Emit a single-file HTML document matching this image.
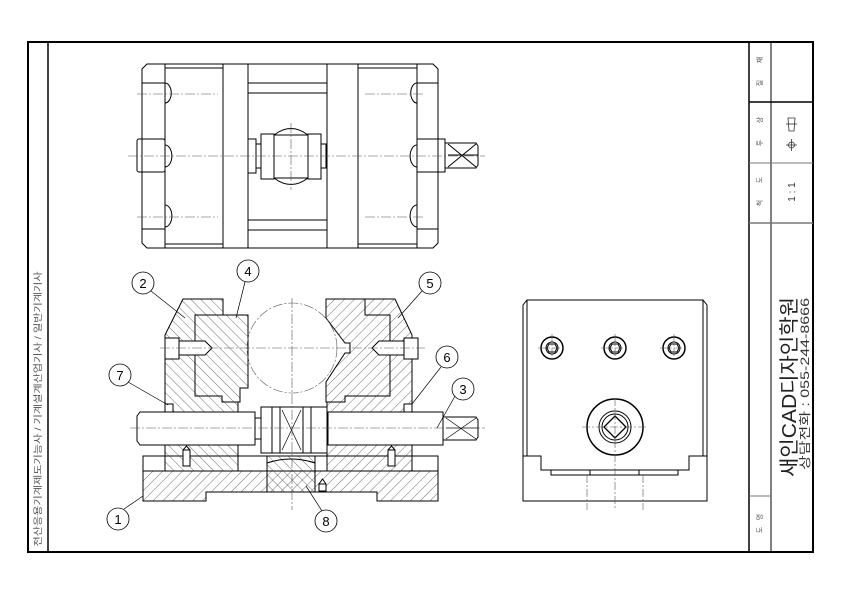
<!DOCTYPE html>
<html><head><meta charset="utf-8"><style>
html,body{margin:0;padding:0;background:#fff;}
svg{display:block;}
text{font-family:"Liberation Sans","Noto Sans CJK KR",sans-serif;}
</style></head><body>
<svg width="842" height="595" viewBox="0 0 842 595" xmlns="http://www.w3.org/2000/svg">
<defs>
<pattern id="h1" patternUnits="userSpaceOnUse" width="7" height="7" patternTransform="rotate(45)"><line x1="0" y1="0" x2="0" y2="7" stroke="#333" stroke-width="0.7"/></pattern>
<pattern id="h2" patternUnits="userSpaceOnUse" width="7" height="7" patternTransform="rotate(-45)"><line x1="0" y1="0" x2="0" y2="7" stroke="#333" stroke-width="0.7"/></pattern>
</defs>
<!-- frame -->
<g fill="none" stroke="#000">
<rect x="28" y="42" width="785" height="510" stroke-width="2"/>
<line x1="48" y1="42" x2="48" y2="552" stroke-width="1.5"/>
<line x1="749" y1="42" x2="749" y2="552" stroke-width="1.5"/>
<line x1="771" y1="42" x2="771" y2="552" stroke-width="1"/>
<line x1="749" y1="102" x2="813" y2="102" stroke-width="1.5"/>
<line x1="749" y1="163" x2="813" y2="163" stroke-width="1" stroke="#777"/>
<line x1="749" y1="223" x2="813" y2="223" stroke-width="1.5" stroke="#777"/>
<line x1="749" y1="496" x2="771" y2="496" stroke-width="1" stroke="#777"/>
</g>
<text transform="translate(41,409) rotate(-90)" font-size="9" text-anchor="middle" fill="#555" textLength="275" lengthAdjust="spacingAndGlyphs">전산응용기계제도기능사 / 기계설계산업기사 / 일반기계기사</text>
<g font-size="7" fill="#555" text-anchor="middle">
<text transform="translate(762,60) rotate(-90)">재</text>
<text transform="translate(762,83) rotate(-90)">질</text>
<text transform="translate(762,120) rotate(-90)">상</text>
<text transform="translate(762,143) rotate(-90)">투</text>
<text transform="translate(762,180) rotate(-90)">도</text>
<text transform="translate(762,203) rotate(-90)">척</text>
<text transform="translate(762,517) rotate(-90)">명</text>
<text transform="translate(762,530) rotate(-90)">도</text>
</g>
<text transform="translate(795,192) rotate(-90)" font-size="10" text-anchor="middle" fill="#333">1 : 1</text>
<g stroke="#333" fill="none" stroke-width="0.8">
<path d="M788,118 L795,118 L794,131 L789,131 Z"/><line x1="786" y1="124" x2="797" y2="124"/>
<circle cx="791.5" cy="145" r="3"/><line x1="786" y1="145" x2="797" y2="145"/><line x1="791.5" y1="139" x2="791.5" y2="151"/>
</g>
<text transform="translate(796,387) rotate(-90)" font-size="20" text-anchor="middle" fill="#222" textLength="180" lengthAdjust="spacingAndGlyphs">새인CAD디자인학원</text>
<text transform="translate(809,384) rotate(-90)" font-size="12" text-anchor="middle" fill="#333" textLength="172" lengthAdjust="spacingAndGlyphs">상담전화 : 055-244-8666</text>

<!-- TOP VIEW -->
<g fill="none" stroke="#000" stroke-width="1">
<path d="M147,64 L433,64 L438,69 L438,243 L433,248 L147,248 L142,243 L142,69 Z"/>
<line x1="165" y1="64" x2="165" y2="248"/><line x1="417" y1="64" x2="417" y2="248"/>
<line x1="142" y1="83" x2="165" y2="83"/><line x1="142" y1="229" x2="165" y2="229"/>
<line x1="417" y1="83" x2="438" y2="83"/><line x1="417" y1="229" x2="438" y2="229"/>
<line x1="223" y1="64" x2="223" y2="248"/><line x1="248" y1="64" x2="248" y2="248"/>
<line x1="327" y1="64" x2="327" y2="248"/><line x1="358" y1="64" x2="358" y2="248"/>
<line x1="165" y1="68" x2="223" y2="68"/><line x1="358" y1="68" x2="417" y2="68"/>
<line x1="248" y1="83" x2="327" y2="83"/><line x1="248" y1="93" x2="327" y2="93"/>
<line x1="248" y1="220" x2="327" y2="220"/><line x1="248" y1="230" x2="327" y2="230"/>
<line x1="165" y1="244" x2="223" y2="244"/><line x1="358" y1="244" x2="417" y2="244"/>
<path d="M165,83 A5,8 0 0 1 165,103"/><path d="M165,145 A5,8 0 0 1 165,167"/><path d="M165,205 A5,8 0 0 1 165,227"/>
<path d="M417,83 A5,8 0 0 0 417,103"/><path d="M417,145 A5,8 0 0 0 417,167"/><path d="M417,205 A5,8 0 0 0 417,227"/>
<rect x="137" y="139" width="28" height="33" rx="2"/>
<rect x="417" y="139" width="28" height="33"/>
<path d="M445,143 L476,143 L478,146 L478,165 L476,168 L445,168 Z"/>
<path d="M448,144 L476,167 M448,167 L476,144 M448,155 L478,155"/>
<rect x="248" y="139" width="8" height="34"/><rect x="256" y="144" width="5" height="24"/>
<rect x="261" y="134" width="13" height="45"/>
<rect x="308" y="134" width="13" height="45"/>
<rect x="321" y="144" width="5" height="24"/>
<path d="M274,135 Q291,122 308,135 M274,178 Q291,191 308,178"/>
<line x1="274" y1="135" x2="308" y2="135"/><line x1="274" y1="178" x2="308" y2="178"/>
</g>
<g stroke="#555" stroke-width="0.6" stroke-dasharray="10,2,2,2" fill="none">
<line x1="128" y1="156" x2="485" y2="156"/>
<line x1="137" y1="94" x2="218" y2="94"/><line x1="137" y1="217" x2="218" y2="217"/>
<line x1="365" y1="94" x2="425" y2="94"/><line x1="365" y1="217" x2="425" y2="217"/>
<line x1="291" y1="123" x2="291" y2="190"/>
</g>

<!-- FRONT SECTION -->
<g stroke="#000" stroke-width="1">
<path d="M143,471 L438,471 L438,501 L377,501 L377,492 L206,492 L206,501 L143,501 Z" fill="url(#h1)"/>
<rect x="143" y="456" width="295" height="15" fill="#fff"/>
<path d="M267,456 L315,456 L315,492 L267,492 Z" fill="url(#h2)"/>
<path d="M267,463 Q291,455 315,463" fill="none"/>
<path d="M183,299 L223,299 L223,315 L195,315 L195,396 L222,396 L222,402 L238,402 L238,471 L165,471 L165,335 Z" fill="url(#h2)"/>
<path d="M195,315 L248,315 L248,388 L240,388 L240,402 L222,402 L222,396 L195,396 Z" fill="url(#h2)"/>
<path d="M326,299 L395,299 L412,335 L412,471 L327,471 L327,402 L345,402 L345,396 L390,396 L390,315 L365,315 L365,299 Z" fill="url(#h1)"/>
<path d="M326,299 L365,299 L365,315 L390,315 L390,396 L345,396 L345,402 L326,402 L326,382 L345,353 L350,353 L350,343 L345,343 L326,318 Z" fill="url(#h1)"/>
<path d="M140,412 L255,412 L255,445 L140,445 L137,441 L137,416 Z" fill="#fff"/>
<line x1="255" y1="418" x2="261" y2="418"/><line x1="255" y1="439" x2="261" y2="439"/>
<path d="M328,412 L443,412 L443,445 L328,445 Z" fill="#fff"/>
<line x1="322" y1="418" x2="328" y2="418"/><line x1="322" y1="439" x2="328" y2="439"/>
<path d="M443,417 L476,417 L478,420 L478,437 L476,440 L443,440 Z" fill="#fff"/>
<path d="M446,418 L476,439 M446,439 L476,418 M446,428 L478,428" fill="none" stroke-width="0.7"/>
<rect x="261" y="407" width="66" height="46" fill="#fff"/>
<line x1="272" y1="407" x2="272" y2="453"/><line x1="280" y1="407" x2="280" y2="453"/>
<line x1="303" y1="407" x2="303" y2="453"/><line x1="311" y1="407" x2="311" y2="453"/>
<path d="M282,410 L301,450 M282,450 L301,410" fill="none" stroke-width="0.7"/>
<rect x="165" y="338" width="14" height="21" fill="#fff"/>
<path d="M179,341 L205,341 L212,348 L205,355 L179,355 Z" fill="#fff"/>
<rect x="404" y="338" width="14" height="21" fill="#fff"/>
<path d="M404,341 L379,341 L372,348 L379,355 L404,355 Z" fill="#fff"/>
<path d="M183,450 L190,450 L190,466 L183,466 Z M183,450 L186.5,446 L190,450" fill="#fff"/>
<path d="M388,450 L395,450 L395,466 L388,466 Z M388,450 L391.5,446 L395,450" fill="#fff"/>
<path d="M319,484 L326,484 L326,491 L319,491 Z M319,484 L322.5,479 L326,484" fill="#fff"/>
<rect x="165" y="404" width="8" height="8" fill="#fff"/>
<rect x="404" y="404" width="8" height="8" fill="#fff"/>
</g>
<g stroke="#555" stroke-width="0.6" stroke-dasharray="10,2,2,2" fill="none">
<circle cx="292" cy="348" r="45"/>
<line x1="160" y1="348" x2="425" y2="348"/>
<line x1="292" y1="298" x2="292" y2="510"/>
<line x1="130" y1="428" x2="485" y2="428"/>
</g>
<g fill="#fff" stroke="#000" stroke-width="0.8">
<circle cx="143" cy="283" r="11"/><circle cx="248" cy="271" r="11"/><circle cx="430" cy="283" r="11"/>
<circle cx="447" cy="357" r="11"/><circle cx="120" cy="375" r="11"/><circle cx="463" cy="389" r="11"/>
<circle cx="118" cy="519" r="11"/><circle cx="326" cy="521" r="11"/>
</g>
<g stroke="#000" stroke-width="0.7" fill="none">
<line x1="151" y1="291" x2="185" y2="318"/><line x1="245" y1="282" x2="236" y2="318"/>
<line x1="422" y1="291" x2="398" y2="318"/><line x1="441" y1="367" x2="412" y2="404"/>
<line x1="128" y1="382" x2="168" y2="405"/><line x1="455" y1="396" x2="437" y2="428"/>
<line x1="124" y1="509" x2="143" y2="496"/><line x1="322" y1="511" x2="306" y2="486"/>
</g>
<g font-size="13" text-anchor="middle" fill="#000">
<text x="143" y="288">2</text><text x="248" y="276">4</text><text x="430" y="288">5</text>
<text x="447" y="362">6</text><text x="120" y="380">7</text><text x="463" y="394">3</text>
<text x="118" y="524">1</text><text x="326" y="526">8</text>
</g>

<!-- SIDE VIEW -->
<g fill="none" stroke="#000" stroke-width="1">
<path d="M527,300 L703,300 L707,305 L707,501 L523,501 L523,305 Z"/>
<line x1="527" y1="300" x2="527" y2="456"/><line x1="703" y1="300" x2="703" y2="456"/>
<path d="M523,456 L541,456 L541,470 L689,470 L689,456 L707,456"/>
<path d="M551,470 L551,475 L678,475 L678,470"/>
<line x1="590" y1="470" x2="590" y2="475"/><line x1="639" y1="470" x2="639" y2="475"/>
<circle cx="552" cy="348" r="11" stroke-width="1.5"/><circle cx="552" cy="348" r="6"/>
<circle cx="615" cy="348" r="11" stroke-width="1.5"/><circle cx="615" cy="348" r="6"/>
<circle cx="674" cy="348" r="11" stroke-width="1.5"/><circle cx="674" cy="348" r="6"/>
<path d="M549,344 L555,344 L557,348 L555,352 L549,352 L547,348 Z"/>
<path d="M612,344 L618,344 L620,348 L618,352 L612,352 L610,348 Z"/>
<path d="M671,344 L677,344 L679,348 L677,352 L671,352 L669,348 Z"/>
<circle cx="615" cy="427" r="28" stroke-width="1.5"/>
<circle cx="615" cy="427" r="16"/><circle cx="615" cy="427" r="13"/>
<path d="M615,416 L626,427 L615,438 L604,427 Z" stroke-width="1.3"/>
</g>
<g stroke="#555" stroke-width="0.6" stroke-dasharray="8,2,2,2" fill="none">
<line x1="538" y1="348" x2="566" y2="348"/><line x1="552" y1="334" x2="552" y2="362"/>
<line x1="601" y1="348" x2="629" y2="348"/><line x1="615" y1="334" x2="615" y2="362"/>
<line x1="660" y1="348" x2="688" y2="348"/><line x1="674" y1="334" x2="674" y2="362"/>
<line x1="582" y1="427" x2="648" y2="427"/><line x1="615" y1="398" x2="615" y2="510"/>
<line x1="587" y1="475" x2="587" y2="510"/><line x1="643" y1="475" x2="643" y2="510"/>
</g>
</svg>
</body></html>
